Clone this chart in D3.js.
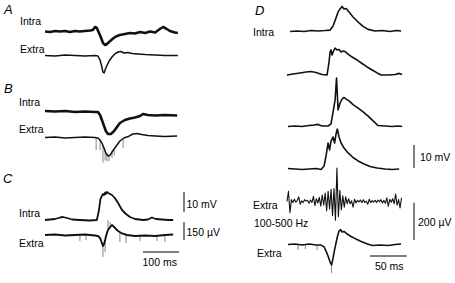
<!DOCTYPE html>
<html>
<head>
<meta charset="utf-8">
<script src="https://cdn.jsdelivr.net/npm/d3@7"></script>
<style>
    html, body { margin: 0; padding: 0; background: #fff; }
    svg { display: block; font-family: "Liberation Sans", Arial, sans-serif; }
</style>
</head>
<body>
<div id="chart"></div>
<script>
// Intra / extra recordings, panels A–D

// ---- data: [time ms, value] (mV for intra, µV for extra) ----
const aIntra = [[0,0],[14,-0.25],[28,0.25],[42,0],[56,0.25],[69,-0.25],[83,0.25],[97,0],[111,0.25],[125,0.5],[133,0.75],[139,2.25],[144,1.75],[150,-0.75],[156,-3.25],[161,-5.75],[167,-6.75],[172,-6.25],[181,-4.75],[189,-3.5],[197,-2.5],[208,-1.75],[222,-1.25],[236,-0.75],[250,-1],[264,-0.25],[278,-0.75],[292,0],[306,-0.5],[319,1.25],[328,2.25],[336,1.5],[347,0.25],[361,-0.5],[369,-0.75]];
const aExtra = [[0,0],[28,-4],[56,4],[83,0],[111,-4],[139,0],[147,-4],[153,-38],[158,-96],[161,-138],[164,-146],[169,-104],[178,-46],[186,-13],[194,13],[203,29],[211,33],[219,21],[231,25],[242,17],[258,13],[278,8],[306,4],[333,0],[369,0]];

const bIntra = [[0,0.25],[28,0],[56,0.25],[83,-0.25],[111,0],[139,-0.25],[147,-0.25],[153,-1.75],[158,-4.25],[164,-7.25],[169,-9.75],[175,-11.25],[183,-11.25],[192,-9.75],[200,-7.75],[208,-5.75],[222,-4.25],[236,-3.5],[250,-3],[264,-2.25],[272,-1.25],[286,-1.75],[306,-2],[333,-1.75],[367,-2]];
const bExtra = [[0,0],[28,4],[56,-4],[83,0],[111,4],[139,0],[147,-4],[153,-21],[158,-46],[164,-88],[169,-129],[175,-154],[181,-146],[186,-121],[192,-96],[200,-63],[208,-29],[219,-4],[231,8],[244,29],[256,33],[269,25],[286,17],[306,13],[333,8],[367,13]];
const bSpikes = [[142,-104],[153,-104],[161,-210],[167,-190],[172,-200],[178,-196],[186,-171],[192,-150],[217,-88]];

const cIntra = [[0,0],[14,0.25],[28,0.5],[42,1.25],[50,1.5],[61,1],[75,0.25],[97,0],[125,-0.25],[144,0],[150,5],[154,10.5],[158,12],[161,13],[164,12.5],[167,13.75],[169,13],[172,14],[178,13.25],[186,12.5],[194,11],[203,8.5],[214,5],[225,3],[236,1.5],[250,0.5],[272,0],[286,0.25],[297,1.25],[308,0.5],[325,0.25],[342,0],[356,0]];
const cExtra = [[0,0],[28,4],[56,-4],[83,0],[111,4],[139,-4],[147,-8],[153,-25],[158,-67],[161,-92],[164,-75],[167,-42],[169,-17],[172,17],[175,42],[181,67],[186,83],[192,67],[197,50],[203,33],[214,13],[228,0],[250,-8],[278,-4],[306,-8],[333,0],[356,4]];
const cSpikes = [[97,-50],[114,-42],[161,-183],[167,-142],[175,125],[181,108],[208,-58],[225,-67],[264,-50],[311,-50],[333,-58]];

const dIntra1 = [[4.1,-0.2],[13.6,0],[23.2,-0.2],[32.7,0.2],[42.3,0],[51.8,0.2],[58.7,0.4],[62.8,2.2],[66.8,5.7],[69.6,8.3],[72.3,9.6],[75,10.7],[77.7,9.6],[80.5,9.8],[84.6,8.3],[90,6.1],[96.9,3.9],[103.7,2],[110.5,0.7],[120.1,0],[129.6,0.2],[140.5,-0.2],[148.7,0.2],[155.5,0]];
const dIntra2 = [[0,0],[8.2,0.4],[17.7,0.9],[25.9,1.3],[32.7,1.5],[39.6,1.1],[47.7,0.2],[54.6,0],[57.3,5.7],[58.7,10],[60,10.9],[61.4,8.7],[62.8,10],[65.5,11.7],[68.2,10.9],[70.9,11.1],[73.7,10],[76.4,10.4],[79.1,10.2],[83.2,9.1],[88.7,7.8],[95.5,6.5],[102.3,5],[109.1,3.5],[116,2.2],[122.8,0.9],[128.2,0],[137.8,0],[147.3,0.2],[152.8,0.7],[156.9,0.2]];
const dIntra3 = [[1.4,-0.2],[10.9,0],[20.5,-0.2],[30,0.2],[36.8,0.4],[42.3,0.7],[47.7,0],[55.9,0],[60,0.9],[62.8,6.1],[65.5,11.3],[67.5,20.9],[69.6,7],[72.3,10],[75,11.7],[77.7,12.4],[80.5,11.7],[84.6,10.9],[90,9.3],[96.9,7.8],[103.7,6.1],[110.5,4.3],[117.3,2.2],[124.1,0.2],[133.7,0],[143.2,-0.2],[151.4,0],[156.9,-0.2]];
const dIntra4 = [[1.4,0.2],[10.9,0],[20.5,-0.2],[30,0],[39.6,0.2],[46.4,-0.2],[50.5,1.3],[53.2,5.7],[55.9,11.3],[58,8.3],[60,12.2],[62.8,13.9],[64.8,11.3],[66.8,15.2],[68.6,17.4],[70.9,13.9],[73.7,11.3],[77.7,9.1],[83.2,7],[90,5],[96.9,3.5],[105,2.2],[113.2,1.1],[122.8,0.4],[133.7,0],[143.2,-0.2],[152.8,0]];

// 100-500 Hz filtered extra, one sample every 2 ms from t = 0
const dFilteredStep = 2;
const dFiltered = [0,55,-60,10,-5,12,-3,5,25,-15,4,-6,10,2,6,-10,8,-5,28,-22,15,-8,22,-25,35,-20,45,-50,55,-40,65,-75,70,-100,180,-80,60,-45,30,-30,25,-12,15,-12,4,-30,12,-8,6,-2,8,-6,10,-5,2,-15,12,-6,5,-3,6,-5,8,-2,10,-8,6,-10,20,-25,12,-4,15,-12,40,-20,10,-35,20];

const dExtra = [[1.4,0],[10.9,3],[20.5,-3],[30,3],[39.6,-3],[46.4,-3],[50.5,-13],[53.2,-35],[55.9,-62],[58.7,-94],[60.7,-110],[62.8,-72],[64.8,-29],[66.8,8],[68.9,46],[70.9,72],[73,80],[75,67],[77.7,70],[81.9,56],[87.3,43],[94.1,29],[101,16],[107.8,5],[116,-5],[126.9,-3],[137.8,-5],[147.3,0],[155.5,3]];
const dSpikes = [[60.7,-153],[15,-29],[25,-25],[41,-29]];

// scale bar values
const barsABC = { mV: 10, uV: 150, ms: 100 };
const barsD = { mV: 10, uV: 200, ms: 50 };

// ---- layout ----
const width = 455, height = 283;
const svg = d3.select('#chart').append('svg')
    .attr('width', width).attr('height', height);

// time scales (bar length in px)
const xABC = d3.scaleLinear().domain([0, barsABC.ms]).range([45, 45 + 36]);
const xD = d3.scaleLinear().domain([0, barsD.ms]).range([287, 287 + 36.7]);

// amplitude scale: baseline y, bar value -> bar px
function yScale(base, barValue, barPx) {
    return d3.scaleLinear().domain([0, barValue]).range([base, base - barPx]);
}
const abcMvPx = 20, abcUvPx = 18, dMvPx = 23, dUvPx = 37.3;

const traces = [
    { data: aIntra, x: xABC, y: yScale(31.5, barsABC.mV, abcMvPx), w: 2.6 },
    { data: aExtra, x: xABC, y: yScale(55.5, barsABC.uV, abcUvPx), w: 1.5 },
    { data: bIntra, x: xABC, y: yScale(111.5, barsABC.mV, abcMvPx), w: 2.6 },
    { data: bExtra, x: xABC, y: yScale(137.5, barsABC.uV, abcUvPx), w: 1.5, spikes: bSpikes },
    { data: cIntra, x: xABC, y: yScale(220, barsABC.mV, abcMvPx), w: 1.8 },
    { data: cExtra, x: xABC, y: yScale(235, barsABC.uV, abcUvPx), w: 1.9, spikes: cSpikes },
    { data: dIntra1, x: xD, y: yScale(31, barsD.mV, dMvPx), w: 1.6 },
    { data: dIntra2, x: xD, y: yScale(75, barsD.mV, dMvPx), w: 1.6 },
    { data: dIntra3, x: xD, y: yScale(126, barsD.mV, dMvPx), w: 1.6 },
    { data: dIntra4, x: xD, y: yScale(169, barsD.mV, dMvPx), w: 1.6 },
    { data: dFiltered.map((v, i) => [i * dFilteredStep, v]), x: xD, y: yScale(201.5, barsD.uV, dUvPx), w: 1.1 },
    { data: dExtra, x: xD, y: yScale(244.5, barsD.uV, dUvPx), w: 1.6, spikes: dSpikes }
];

// linear lookup of a trace value at time t (for spike roots)
function valueAt(data, t) {
    const i = d3.bisector(d => d[0]).left(data, t);
    if (i <= 0) return data[0][1];
    if (i >= data.length) return data[data.length - 1][1];
    const a = data[i - 1], b = data[i];
    return a[1] + (b[1] - a[1]) * (t - a[0]) / (b[0] - a[0]);
}

const gTraces = svg.append('g');
traces.forEach(tr => {
    if (tr.spikes) {
        gTraces.selectAll(null)
            .data(tr.spikes)
            .enter().append('line')
            .attr('x1', d => tr.x(d[0])).attr('x2', d => tr.x(d[0]))
            .attr('y1', d => tr.y(valueAt(tr.data, d[0])))
            .attr('y2', d => tr.y(d[1]))
            .style('stroke', '#555')
            .style('stroke-width', 0.7);
    }
    gTraces.append('path')
        .datum(tr.data)
        .attr('d', d3.line().x(d => tr.x(d[0])).y(d => tr.y(d[1])))
        .style('fill', 'none')
        .style('stroke', '#111')
        .style('stroke-width', tr.w)
        .style('stroke-linejoin', 'round');
});

// ---- scale bars ----
const gBars = svg.append('g').style('stroke', '#000').style('stroke-width', 1);
function vBar(x, top, px) {
    gBars.append('line').attr('x1', x).attr('x2', x).attr('y1', top).attr('y2', top + px);
}
function hBar(y, scale, ms) {
    gBars.append('line').attr('x1', scale(0)).attr('x2', scale(ms)).attr('y1', y).attr('y2', y);
}
vBar(184, 192, abcMvPx);
vBar(184, 222, abcUvPx);
hBar(252, d3.scaleLinear().domain([0, barsABC.ms]).range([143, 143 + 36]), barsABC.ms);
vBar(414, 145, dMvPx);
vBar(414, 202.7, dUvPx);
hBar(256, d3.scaleLinear().domain([0, barsD.ms]).range([370, 370 + 36.7]), barsD.ms);

// ---- labels ----
const panelLetters = [['A', 4, 14], ['B', 4, 92.5], ['C', 3, 183], ['D', 255, 15]];
const labels = [
    ['Intra', 20, 25], ['Extra', 20, 53],
    ['Intra', 19, 106], ['Extra', 19, 133],
    ['Intra', 19, 217], ['Extra', 19, 247],
    ['Intra', 253, 36],
    ['Extra', 253, 209], ['100-500 Hz', 254, 227], ['Extra', 257, 256.5],
    [barsABC.mV + ' mV', 186.5, 208], [barsABC.uV + ' \u00b5V', 186.5, 235.5], [barsABC.ms + ' ms', 142.5, 266],
    [barsD.mV + ' mV', 420, 160.5], [barsD.uV + ' \u00b5V', 418, 225.5], [barsD.ms + ' ms', 375, 270]
];

svg.append('g').selectAll('text')
    .data(panelLetters)
    .enter().append('text')
    .attr('x', d => d[1]).attr('y', d => d[2])
    .style('font-size', '13px')
    .style('font-style', 'italic')
    .text(d => d[0]);

svg.append('g').selectAll('text')
    .data(labels)
    .enter().append('text')
    .attr('x', d => d[1]).attr('y', d => d[2])
    .style('font-size', '10.5px')
    .text(d => d[0]);
</script>
</body>
</html>
